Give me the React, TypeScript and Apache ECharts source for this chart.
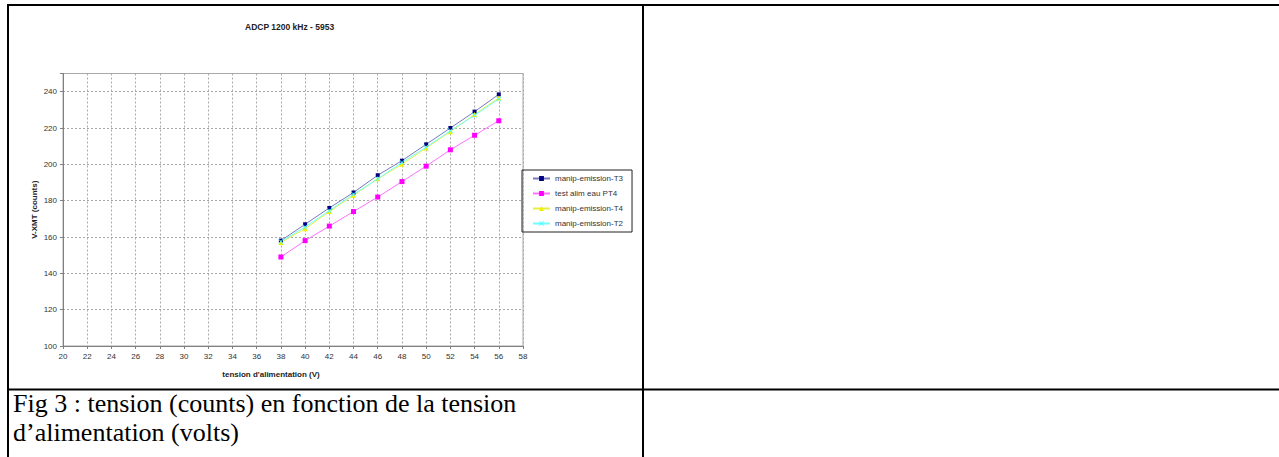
import React, { useEffect, useRef } from "react";
import * as echarts from "echarts";

const titleText = "ADCP 1200 kHz - 5953";
const xName = "tension d'alimentation (V)";
const yName = "V-XMT (counts)";
const captionLine1 = "Fig 3 : tension (counts) en fonction de la tension";
const captionLine2 = "d\u2019alimentation (volts)";

const voltages = [38, 40, 42, 44, 46, 48, 50, 52, 54, 56];
const seriesNames = ["manip-emission-T3", "test alim eau PT4", "manip-emission-T4", "manip-emission-T2"];
const t3 = [158, 167, 176, 184.5, 194, 202, 211, 220, 229, 238.5];
const pt4 = [149, 158, 166, 174, 182, 190.5, 199, 208, 216, 224];
const t4 = [157, 164.5, 174, 183, 192, 200, 209, 218, 227.5, 236.5];
const t2 = [157.5, 165.5, 174.5, 183.5, 192, 201, 209.5, 218.5, 227, 236];

const xMin = 20;
const xMax = 58;
const xStep = 2;
const yMin = 100;
const yMax = 250;
const yStep = 20;

const crossPath = "path://M0,1L1,0L5,4L9,0L10,1L6,5L10,9L9,10L5,6L1,10L0,9L4,5Z";

export default function App() {
  const ref = useRef<HTMLDivElement>(null);
  useEffect(() => {
    if (!ref.current) return;
    const chart = echarts.init(ref.current, null, { renderer: "svg" });
    const pts = (vals: number[]) => voltages.map((x, i) => [x, vals[i]]);
    const mk = (name: string, vals: number[], color: string, lineColor: string, symbol: string, size: number) => ({
      name,
      type: "line",
      data: pts(vals),
      symbol,
      symbolSize: size,
      showSymbol: true,
      itemStyle: { color },
      lineStyle: { color: lineColor, width: 1 },
      emphasis: { disabled: true },
    });
    const labelFont = { fontFamily: "Liberation Sans", fontSize: 8, color: "#333" };
    chart.setOption({
      animation: false,
      backgroundColor: "#fff",
      title: {
        text: titleText,
        left: 245,
        top: 22,
        padding: 0,
        textStyle: { fontFamily: "Liberation Sans", fontSize: 8.5, fontWeight: "bold", color: "#222" },
      },
      legend: {
        orient: "vertical",
        left: 522,
        top: 170,
        padding: [4, 9, 4, 10],
        itemGap: 6,
        itemWidth: 17,
        itemHeight: 6,
        borderColor: "#222",
        borderWidth: 1,
        data: seriesNames,
        textStyle: { fontFamily: "Liberation Sans", fontSize: 8, color: "#333", lineHeight: 9 },
      },
      grid: {
        left: 63,
        top: 73.5,
        width: 460,
        height: 272.5,
        show: true,
        borderColor: "#a8a8a8",
        borderWidth: 1,
        containLabel: false,
      },
      xAxis: {
        type: "value",
        min: xMin,
        max: xMax,
        interval: xStep,
        name: xName,
        nameLocation: "middle",
        nameGap: 24,
        nameTextStyle: { fontFamily: "Liberation Sans", fontSize: 8, fontWeight: "bold", color: "#222", padding: [0, 44, 0, 0] },
        axisLine: { lineStyle: { color: "#808080", width: 1 } },
        axisTick: { show: true, length: 3, lineStyle: { color: "#808080" } },
        axisLabel: { ...labelFont, margin: 6 },
        splitLine: { show: true, lineStyle: { color: "#a8a8a8", type: [2, 2], width: 1 } },
      },
      yAxis: {
        type: "value",
        min: yMin,
        max: yMax,
        interval: yStep,
        name: yName,
        nameLocation: "middle",
        nameGap: 25,
        nameTextStyle: { fontFamily: "Liberation Sans", fontSize: 8, fontWeight: "bold", color: "#222" },
        axisLine: { show: true, lineStyle: { color: "#808080", width: 1 } },
        axisTick: { show: true, length: 3, lineStyle: { color: "#808080" } },
        axisLabel: { ...labelFont, margin: 6, formatter: (v: number) => (v === yMax ? "" : String(v)) },
        splitLine: { show: true, lineStyle: { color: "#a8a8a8", type: [2, 2], width: 1 } },
      },
      series: [
        mk(seriesNames[0], t3, "#000080", "#7a7abc", "rect", 4),
        mk(seriesNames[1], pt4, "#ff00ff", "#ff70ff", "rect", 5),
        mk(seriesNames[2], t4, "#f0f000", "#e6f040", "triangle", 5),
        mk(seriesNames[3], t2, "#40ffff", "#70ffff", crossPath, 5),
      ],
      graphic: [
        { type: "rect", shape: { x: 7, y: 4, width: 1272, height: 2 }, style: { fill: "#000" } },
        { type: "rect", shape: { x: 7, y: 4, width: 2, height: 453 }, style: { fill: "#000" } },
        { type: "rect", shape: { x: 642, y: 4, width: 2, height: 453 }, style: { fill: "#000" } },
        { type: "rect", shape: { x: 7, y: 388.5, width: 1272, height: 2 }, style: { fill: "#000" } },
        {
          type: "text",
          x: 13,
          y: 403,
          style: { text: captionLine1, fontFamily: "Liberation Serif", fontSize: 26, fill: "#000", verticalAlign: "middle" },
        },
        {
          type: "text",
          x: 13,
          y: 432,
          style: { text: captionLine2, fontFamily: "Liberation Serif", fontSize: 26, fill: "#000", verticalAlign: "middle" },
        },
      ],
    });
    return () => chart.dispose();
  }, []);
  return <div ref={ref} style={{ position: "absolute", left: 0, top: 0, width: 1279, height: 457 }} />;
}
